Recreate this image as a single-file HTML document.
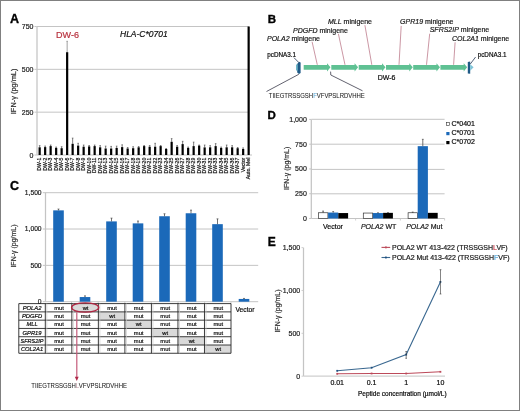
<!DOCTYPE html>
<html><head><meta charset="utf-8"><style>
html,body{margin:0;padding:0;background:#fff;}
body{width:520px;height:411px;overflow:hidden;position:relative;}
svg{position:absolute;left:0;top:0;display:block;filter:blur(0.35px);}
svg text{font-family:'Liberation Sans', sans-serif;}
</style></head><body>
<svg width="520" height="411" viewBox="0 0 520 411" font-family="'Liberation Sans', sans-serif">
<rect x="0" y="0" width="520" height="411" fill="#fff"/>
<text x="10.00" y="22.70" font-size="12.5" fill="#000" font-weight="bold" stroke="#000" stroke-width="0.35">A</text>
<line x1="36.50" y1="112.17" x2="249.00" y2="112.17" stroke="#c4c4c4" stroke-width="1" />
<line x1="36.50" y1="69.33" x2="249.00" y2="69.33" stroke="#c4c4c4" stroke-width="1" />
<line x1="36.50" y1="26.50" x2="249.00" y2="26.50" stroke="#c4c4c4" stroke-width="1" />
<line x1="36.50" y1="155.00" x2="252.00" y2="155.00" stroke="#c4c4c4" stroke-width="1" />
<line x1="37.00" y1="26.50" x2="37.00" y2="155.00" stroke="#c4c4c4" stroke-width="1.25" />
<line x1="34.50" y1="155.00" x2="36.50" y2="155.00" stroke="#c4c4c4" stroke-width="1" />
<text x="33.50" y="157.50" font-size="7" text-anchor="end" fill="#222" stroke="#222" stroke-width="0.2">0</text>
<line x1="34.50" y1="112.17" x2="36.50" y2="112.17" stroke="#c4c4c4" stroke-width="1" />
<text x="33.50" y="114.67" font-size="7" text-anchor="end" fill="#222" stroke="#222" stroke-width="0.2">250</text>
<line x1="34.50" y1="69.33" x2="36.50" y2="69.33" stroke="#c4c4c4" stroke-width="1" />
<text x="33.50" y="71.83" font-size="7" text-anchor="end" fill="#222" stroke="#222" stroke-width="0.2">500</text>
<line x1="34.50" y1="26.50" x2="36.50" y2="26.50" stroke="#c4c4c4" stroke-width="1" />
<text x="33.50" y="29.00" font-size="7" text-anchor="end" fill="#222" stroke="#222" stroke-width="0.2">750</text>
<text x="0.00" y="0.00" font-size="7.4" text-anchor="middle" fill="#333" transform="translate(16.3,91.4) rotate(-90)" stroke="#333" stroke-width="0.2">IFN-&#947; (pg/mL)</text>
<text x="67.50" y="37.70" font-size="9" text-anchor="middle" fill="#b8323f" stroke="#b8323f" stroke-width="0.2">DW-6</text>
<text x="120.00" y="36.60" font-size="8.5" fill="#111" font-style="italic" stroke="#111" stroke-width="0.2">HLA-C*0701</text>
<line x1="39.65" y1="145.60" x2="39.65" y2="147.30" stroke="#444" stroke-width="0.7" />
<line x1="38.85" y1="145.60" x2="40.45" y2="145.60" stroke="#444" stroke-width="0.6" />
<rect x="38.55" y="147.30" width="2.20" height="7.70" fill="#000" />
<text x="0.00" y="0.00" font-size="5.1" text-anchor="end" fill="#111" stroke="#111" stroke-width="0.2" transform="translate(41.30,157.7) rotate(-90)">DW-1</text>
<line x1="45.15" y1="146.00" x2="45.15" y2="147.10" stroke="#444" stroke-width="0.7" />
<line x1="44.35" y1="146.00" x2="45.95" y2="146.00" stroke="#444" stroke-width="0.6" />
<rect x="44.05" y="147.10" width="2.20" height="7.90" fill="#000" />
<text x="0.00" y="0.00" font-size="5.1" text-anchor="end" fill="#111" stroke="#111" stroke-width="0.2" transform="translate(46.80,157.7) rotate(-90)">DW-2</text>
<line x1="50.65" y1="145.00" x2="50.65" y2="146.10" stroke="#444" stroke-width="0.7" />
<line x1="49.85" y1="145.00" x2="51.45" y2="145.00" stroke="#444" stroke-width="0.6" />
<rect x="49.55" y="146.10" width="2.20" height="8.90" fill="#000" />
<text x="0.00" y="0.00" font-size="5.1" text-anchor="end" fill="#111" stroke="#111" stroke-width="0.2" transform="translate(52.30,157.7) rotate(-90)">DW-3</text>
<line x1="56.15" y1="147.00" x2="56.15" y2="147.90" stroke="#444" stroke-width="0.7" />
<line x1="55.35" y1="147.00" x2="56.95" y2="147.00" stroke="#444" stroke-width="0.6" />
<rect x="55.05" y="147.90" width="2.20" height="7.10" fill="#000" />
<text x="0.00" y="0.00" font-size="5.1" text-anchor="end" fill="#111" stroke="#111" stroke-width="0.2" transform="translate(57.80,157.7) rotate(-90)">DW-4</text>
<line x1="61.65" y1="146.70" x2="61.65" y2="148.20" stroke="#444" stroke-width="0.7" />
<line x1="60.85" y1="146.70" x2="62.45" y2="146.70" stroke="#444" stroke-width="0.6" />
<rect x="60.55" y="148.20" width="2.20" height="6.80" fill="#000" />
<text x="0.00" y="0.00" font-size="5.1" text-anchor="end" fill="#111" stroke="#111" stroke-width="0.2" transform="translate(63.30,157.7) rotate(-90)">DW-5</text>
<line x1="67.15" y1="41.30" x2="67.15" y2="52.20" stroke="#777" stroke-width="0.7" />
<line x1="66.35" y1="41.30" x2="67.95" y2="41.30" stroke="#777" stroke-width="0.6" />
<rect x="66.05" y="52.20" width="2.20" height="102.80" fill="#000" />
<text x="0.00" y="0.00" font-size="5.1" text-anchor="end" fill="#111" stroke="#111" stroke-width="0.2" transform="translate(68.80,157.7) rotate(-90)">DW-6</text>
<line x1="72.65" y1="138.10" x2="72.65" y2="143.80" stroke="#444" stroke-width="0.7" />
<line x1="71.85" y1="138.10" x2="73.45" y2="138.10" stroke="#444" stroke-width="0.6" />
<rect x="71.55" y="143.80" width="2.20" height="11.20" fill="#000" />
<text x="0.00" y="0.00" font-size="5.1" text-anchor="end" fill="#111" stroke="#111" stroke-width="0.2" transform="translate(74.30,157.7) rotate(-90)">DW-7</text>
<line x1="78.15" y1="143.30" x2="78.15" y2="145.60" stroke="#444" stroke-width="0.7" />
<line x1="77.35" y1="143.30" x2="78.95" y2="143.30" stroke="#444" stroke-width="0.6" />
<rect x="77.05" y="145.60" width="2.20" height="9.40" fill="#000" />
<text x="0.00" y="0.00" font-size="5.1" text-anchor="end" fill="#111" stroke="#111" stroke-width="0.2" transform="translate(79.80,157.7) rotate(-90)">DW-8</text>
<line x1="83.65" y1="145.00" x2="83.65" y2="146.70" stroke="#444" stroke-width="0.7" />
<line x1="82.85" y1="145.00" x2="84.45" y2="145.00" stroke="#444" stroke-width="0.6" />
<rect x="82.55" y="146.70" width="2.20" height="8.30" fill="#000" />
<text x="0.00" y="0.00" font-size="5.1" text-anchor="end" fill="#111" stroke="#111" stroke-width="0.2" transform="translate(85.30,157.7) rotate(-90)">DW-9</text>
<line x1="89.15" y1="145.50" x2="89.15" y2="146.40" stroke="#444" stroke-width="0.7" />
<line x1="88.35" y1="145.50" x2="89.95" y2="145.50" stroke="#444" stroke-width="0.6" />
<rect x="88.05" y="146.40" width="2.20" height="8.60" fill="#000" />
<text x="0.00" y="0.00" font-size="5.1" text-anchor="end" fill="#111" stroke="#111" stroke-width="0.2" transform="translate(90.80,157.7) rotate(-90)">DW-10</text>
<line x1="94.65" y1="145.00" x2="94.65" y2="146.10" stroke="#444" stroke-width="0.7" />
<line x1="93.85" y1="145.00" x2="95.45" y2="145.00" stroke="#444" stroke-width="0.6" />
<rect x="93.55" y="146.10" width="2.20" height="8.90" fill="#000" />
<text x="0.00" y="0.00" font-size="5.1" text-anchor="end" fill="#111" stroke="#111" stroke-width="0.2" transform="translate(96.30,157.7) rotate(-90)">DW-11</text>
<line x1="100.15" y1="145.60" x2="100.15" y2="147.30" stroke="#444" stroke-width="0.7" />
<line x1="99.35" y1="145.60" x2="100.95" y2="145.60" stroke="#444" stroke-width="0.6" />
<rect x="99.05" y="147.30" width="2.20" height="7.70" fill="#000" />
<text x="0.00" y="0.00" font-size="5.1" text-anchor="end" fill="#111" stroke="#111" stroke-width="0.2" transform="translate(101.80,157.7) rotate(-90)">DW-12</text>
<line x1="105.65" y1="146.10" x2="105.65" y2="148.50" stroke="#444" stroke-width="0.7" />
<line x1="104.85" y1="146.10" x2="106.45" y2="146.10" stroke="#444" stroke-width="0.6" />
<rect x="104.55" y="148.50" width="2.20" height="6.50" fill="#000" />
<text x="0.00" y="0.00" font-size="5.1" text-anchor="end" fill="#111" stroke="#111" stroke-width="0.2" transform="translate(107.30,157.7) rotate(-90)">DW-13</text>
<line x1="111.15" y1="146.40" x2="111.15" y2="148.50" stroke="#444" stroke-width="0.7" />
<line x1="110.35" y1="146.40" x2="111.95" y2="146.40" stroke="#444" stroke-width="0.6" />
<rect x="110.05" y="148.50" width="2.20" height="6.50" fill="#000" />
<text x="0.00" y="0.00" font-size="5.1" text-anchor="end" fill="#111" stroke="#111" stroke-width="0.2" transform="translate(112.80,157.7) rotate(-90)">DW-14</text>
<line x1="116.65" y1="146.10" x2="116.65" y2="147.90" stroke="#444" stroke-width="0.7" />
<line x1="115.85" y1="146.10" x2="117.45" y2="146.10" stroke="#444" stroke-width="0.6" />
<rect x="115.55" y="147.90" width="2.20" height="7.10" fill="#000" />
<text x="0.00" y="0.00" font-size="5.1" text-anchor="end" fill="#111" stroke="#111" stroke-width="0.2" transform="translate(118.30,157.7) rotate(-90)">DW-15</text>
<line x1="122.15" y1="144.80" x2="122.15" y2="147.10" stroke="#444" stroke-width="0.7" />
<line x1="121.35" y1="144.80" x2="122.95" y2="144.80" stroke="#444" stroke-width="0.6" />
<rect x="121.05" y="147.10" width="2.20" height="7.90" fill="#000" />
<text x="0.00" y="0.00" font-size="5.1" text-anchor="end" fill="#111" stroke="#111" stroke-width="0.2" transform="translate(123.80,157.7) rotate(-90)">DW-16</text>
<line x1="127.65" y1="147.50" x2="127.65" y2="148.50" stroke="#444" stroke-width="0.7" />
<line x1="126.85" y1="147.50" x2="128.45" y2="147.50" stroke="#444" stroke-width="0.6" />
<rect x="126.55" y="148.50" width="2.20" height="6.50" fill="#000" />
<text x="0.00" y="0.00" font-size="5.1" text-anchor="end" fill="#111" stroke="#111" stroke-width="0.2" transform="translate(129.30,157.7) rotate(-90)">DW-17</text>
<line x1="133.15" y1="146.70" x2="133.15" y2="148.20" stroke="#444" stroke-width="0.7" />
<line x1="132.35" y1="146.70" x2="133.95" y2="146.70" stroke="#444" stroke-width="0.6" />
<rect x="132.05" y="148.20" width="2.20" height="6.80" fill="#000" />
<text x="0.00" y="0.00" font-size="5.1" text-anchor="end" fill="#111" stroke="#111" stroke-width="0.2" transform="translate(134.80,157.7) rotate(-90)">DW-18</text>
<line x1="138.65" y1="146.50" x2="138.65" y2="147.30" stroke="#444" stroke-width="0.7" />
<line x1="137.85" y1="146.50" x2="139.45" y2="146.50" stroke="#444" stroke-width="0.6" />
<rect x="137.55" y="147.30" width="2.20" height="7.70" fill="#000" />
<text x="0.00" y="0.00" font-size="5.1" text-anchor="end" fill="#111" stroke="#111" stroke-width="0.2" transform="translate(140.30,157.7) rotate(-90)">DW-19</text>
<line x1="144.15" y1="145.50" x2="144.15" y2="146.10" stroke="#444" stroke-width="0.7" />
<line x1="143.35" y1="145.50" x2="144.95" y2="145.50" stroke="#444" stroke-width="0.6" />
<rect x="143.05" y="146.10" width="2.20" height="8.90" fill="#000" />
<text x="0.00" y="0.00" font-size="5.1" text-anchor="end" fill="#111" stroke="#111" stroke-width="0.2" transform="translate(145.80,157.7) rotate(-90)">DW-20</text>
<line x1="149.65" y1="145.50" x2="149.65" y2="146.70" stroke="#444" stroke-width="0.7" />
<line x1="148.85" y1="145.50" x2="150.45" y2="145.50" stroke="#444" stroke-width="0.6" />
<rect x="148.55" y="146.70" width="2.20" height="8.30" fill="#000" />
<text x="0.00" y="0.00" font-size="5.1" text-anchor="end" fill="#111" stroke="#111" stroke-width="0.2" transform="translate(151.30,157.7) rotate(-90)">DW-21</text>
<line x1="155.15" y1="143.30" x2="155.15" y2="146.70" stroke="#444" stroke-width="0.7" />
<line x1="154.35" y1="143.30" x2="155.95" y2="143.30" stroke="#444" stroke-width="0.6" />
<rect x="154.05" y="146.70" width="2.20" height="8.30" fill="#000" />
<text x="0.00" y="0.00" font-size="5.1" text-anchor="end" fill="#111" stroke="#111" stroke-width="0.2" transform="translate(156.80,157.7) rotate(-90)">DW-22</text>
<line x1="160.65" y1="145.50" x2="160.65" y2="146.10" stroke="#444" stroke-width="0.7" />
<line x1="159.85" y1="145.50" x2="161.45" y2="145.50" stroke="#444" stroke-width="0.6" />
<rect x="159.55" y="146.10" width="2.20" height="8.90" fill="#000" />
<text x="0.00" y="0.00" font-size="5.1" text-anchor="end" fill="#111" stroke="#111" stroke-width="0.2" transform="translate(162.30,157.7) rotate(-90)">DW-23</text>
<line x1="166.15" y1="148.50" x2="166.15" y2="149.00" stroke="#444" stroke-width="0.7" />
<line x1="165.35" y1="148.50" x2="166.95" y2="148.50" stroke="#444" stroke-width="0.6" />
<rect x="165.05" y="149.00" width="2.20" height="6.00" fill="#000" />
<text x="0.00" y="0.00" font-size="5.1" text-anchor="end" fill="#111" stroke="#111" stroke-width="0.2" transform="translate(167.80,157.7) rotate(-90)">DW-24</text>
<line x1="171.65" y1="138.60" x2="171.65" y2="141.80" stroke="#444" stroke-width="0.7" />
<line x1="170.85" y1="138.60" x2="172.45" y2="138.60" stroke="#444" stroke-width="0.6" />
<rect x="170.55" y="141.80" width="2.20" height="13.20" fill="#000" />
<text x="0.00" y="0.00" font-size="5.1" text-anchor="end" fill="#111" stroke="#111" stroke-width="0.2" transform="translate(173.30,157.7) rotate(-90)">DW-25</text>
<line x1="177.15" y1="145.50" x2="177.15" y2="146.70" stroke="#444" stroke-width="0.7" />
<line x1="176.35" y1="145.50" x2="177.95" y2="145.50" stroke="#444" stroke-width="0.6" />
<rect x="176.05" y="146.70" width="2.20" height="8.30" fill="#000" />
<text x="0.00" y="0.00" font-size="5.1" text-anchor="end" fill="#111" stroke="#111" stroke-width="0.2" transform="translate(178.80,157.7) rotate(-90)">DW-26</text>
<line x1="182.65" y1="141.30" x2="182.65" y2="144.10" stroke="#444" stroke-width="0.7" />
<line x1="181.85" y1="141.30" x2="183.45" y2="141.30" stroke="#444" stroke-width="0.6" />
<rect x="181.55" y="144.10" width="2.20" height="10.90" fill="#000" />
<text x="0.00" y="0.00" font-size="5.1" text-anchor="end" fill="#111" stroke="#111" stroke-width="0.2" transform="translate(184.30,157.7) rotate(-90)">DW-27</text>
<line x1="188.15" y1="147.00" x2="188.15" y2="147.90" stroke="#444" stroke-width="0.7" />
<line x1="187.35" y1="147.00" x2="188.95" y2="147.00" stroke="#444" stroke-width="0.6" />
<rect x="187.05" y="147.90" width="2.20" height="7.10" fill="#000" />
<text x="0.00" y="0.00" font-size="5.1" text-anchor="end" fill="#111" stroke="#111" stroke-width="0.2" transform="translate(189.80,157.7) rotate(-90)">DW-28</text>
<line x1="193.65" y1="142.10" x2="193.65" y2="146.10" stroke="#444" stroke-width="0.7" />
<line x1="192.85" y1="142.10" x2="194.45" y2="142.10" stroke="#444" stroke-width="0.6" />
<rect x="192.55" y="146.10" width="2.20" height="8.90" fill="#000" />
<text x="0.00" y="0.00" font-size="5.1" text-anchor="end" fill="#111" stroke="#111" stroke-width="0.2" transform="translate(195.30,157.7) rotate(-90)">DW-29</text>
<line x1="199.15" y1="145.00" x2="199.15" y2="145.60" stroke="#444" stroke-width="0.7" />
<line x1="198.35" y1="145.00" x2="199.95" y2="145.00" stroke="#444" stroke-width="0.6" />
<rect x="198.05" y="145.60" width="2.20" height="9.40" fill="#000" />
<text x="0.00" y="0.00" font-size="5.1" text-anchor="end" fill="#111" stroke="#111" stroke-width="0.2" transform="translate(200.80,157.7) rotate(-90)">DW-30</text>
<line x1="204.65" y1="145.00" x2="204.65" y2="147.40" stroke="#444" stroke-width="0.7" />
<line x1="203.85" y1="145.00" x2="205.45" y2="145.00" stroke="#444" stroke-width="0.6" />
<rect x="203.55" y="147.40" width="2.20" height="7.60" fill="#000" />
<text x="0.00" y="0.00" font-size="5.1" text-anchor="end" fill="#111" stroke="#111" stroke-width="0.2" transform="translate(206.30,157.7) rotate(-90)">DW-31</text>
<line x1="210.15" y1="145.60" x2="210.15" y2="147.30" stroke="#444" stroke-width="0.7" />
<line x1="209.35" y1="145.60" x2="210.95" y2="145.60" stroke="#444" stroke-width="0.6" />
<rect x="209.05" y="147.30" width="2.20" height="7.70" fill="#000" />
<text x="0.00" y="0.00" font-size="5.1" text-anchor="end" fill="#111" stroke="#111" stroke-width="0.2" transform="translate(211.80,157.7) rotate(-90)">DW-32</text>
<line x1="215.65" y1="143.60" x2="215.65" y2="146.10" stroke="#444" stroke-width="0.7" />
<line x1="214.85" y1="143.60" x2="216.45" y2="143.60" stroke="#444" stroke-width="0.6" />
<rect x="214.55" y="146.10" width="2.20" height="8.90" fill="#000" />
<text x="0.00" y="0.00" font-size="5.1" text-anchor="end" fill="#111" stroke="#111" stroke-width="0.2" transform="translate(217.30,157.7) rotate(-90)">DW-33</text>
<line x1="221.15" y1="147.00" x2="221.15" y2="147.90" stroke="#444" stroke-width="0.7" />
<line x1="220.35" y1="147.00" x2="221.95" y2="147.00" stroke="#444" stroke-width="0.6" />
<rect x="220.05" y="147.90" width="2.20" height="7.10" fill="#000" />
<text x="0.00" y="0.00" font-size="5.1" text-anchor="end" fill="#111" stroke="#111" stroke-width="0.2" transform="translate(222.80,157.7) rotate(-90)">DW-34</text>
<line x1="226.65" y1="145.00" x2="226.65" y2="147.30" stroke="#444" stroke-width="0.7" />
<line x1="225.85" y1="145.00" x2="227.45" y2="145.00" stroke="#444" stroke-width="0.6" />
<rect x="225.55" y="147.30" width="2.20" height="7.70" fill="#000" />
<text x="0.00" y="0.00" font-size="5.1" text-anchor="end" fill="#111" stroke="#111" stroke-width="0.2" transform="translate(228.30,157.7) rotate(-90)">DW-35</text>
<line x1="232.15" y1="145.60" x2="232.15" y2="147.30" stroke="#444" stroke-width="0.7" />
<line x1="231.35" y1="145.60" x2="232.95" y2="145.60" stroke="#444" stroke-width="0.6" />
<rect x="231.05" y="147.30" width="2.20" height="7.70" fill="#000" />
<text x="0.00" y="0.00" font-size="5.1" text-anchor="end" fill="#111" stroke="#111" stroke-width="0.2" transform="translate(233.80,157.7) rotate(-90)">DW-36</text>
<line x1="237.65" y1="147.50" x2="237.65" y2="148.20" stroke="#444" stroke-width="0.7" />
<line x1="236.85" y1="147.50" x2="238.45" y2="147.50" stroke="#444" stroke-width="0.6" />
<rect x="236.55" y="148.20" width="2.20" height="6.80" fill="#000" />
<text x="0.00" y="0.00" font-size="5.1" text-anchor="end" fill="#111" stroke="#111" stroke-width="0.2" transform="translate(239.30,157.7) rotate(-90)">DW-37</text>
<line x1="243.15" y1="147.90" x2="243.15" y2="149.00" stroke="#444" stroke-width="0.7" />
<line x1="242.35" y1="147.90" x2="243.95" y2="147.90" stroke="#444" stroke-width="0.6" />
<rect x="242.05" y="149.00" width="2.20" height="6.00" fill="#000" />
<text x="0.00" y="0.00" font-size="5.1" text-anchor="end" fill="#111" stroke="#111" stroke-width="0.2" transform="translate(244.80,157.7) rotate(-90)">Vector</text>
<rect x="247.55" y="26.50" width="2.20" height="128.50" fill="#000" />
<text x="0.00" y="0.00" font-size="5.1" text-anchor="end" fill="#111" stroke="#111" stroke-width="0.2" transform="translate(250.30,157.7) rotate(-90)">Auto. Mel</text>
<text x="267.70" y="22.70" font-size="11.5" fill="#000" font-weight="bold" stroke="#000" stroke-width="0.35">B</text>
<text x="267.00" y="40.70" font-size="7" fill="#1a1a1a" stroke="#1a1a1a" stroke-width="0.2"><tspan font-style="italic" stroke="#1a1a1a">POLA2</tspan> minigene</text>
<text x="293.00" y="32.50" font-size="7" fill="#1a1a1a" stroke="#1a1a1a" stroke-width="0.2"><tspan font-style="italic" stroke="#1a1a1a">PDGFD</tspan> minigene</text>
<text x="328.00" y="24.20" font-size="7" fill="#1a1a1a" stroke="#1a1a1a" stroke-width="0.2"><tspan font-style="italic" stroke="#1a1a1a">MLL</tspan> minigene</text>
<text x="400.10" y="23.90" font-size="7" fill="#1a1a1a" stroke="#1a1a1a" stroke-width="0.2"><tspan font-style="italic" stroke="#1a1a1a">GPR19</tspan> minigene</text>
<text x="429.70" y="32.40" font-size="7" fill="#1a1a1a" stroke="#1a1a1a" stroke-width="0.2"><tspan font-style="italic" stroke="#1a1a1a">SFRS2IP</tspan> minigene</text>
<text x="452.00" y="40.70" font-size="7" fill="#1a1a1a" stroke="#1a1a1a" stroke-width="0.2"><tspan font-style="italic" stroke="#1a1a1a">COL2A1</tspan> minigene</text>
<line x1="312.10" y1="41.80" x2="317.30" y2="64.80" stroke="#b46a7c" stroke-width="0.7" />
<line x1="338.40" y1="33.80" x2="345.00" y2="64.80" stroke="#b46a7c" stroke-width="0.7" />
<line x1="364.90" y1="25.20" x2="371.80" y2="64.80" stroke="#b46a7c" stroke-width="0.7" />
<line x1="401.20" y1="25.90" x2="399.00" y2="64.80" stroke="#b46a7c" stroke-width="0.7" />
<line x1="429.70" y1="33.70" x2="426.50" y2="64.80" stroke="#b46a7c" stroke-width="0.7" />
<line x1="455.10" y1="42.30" x2="453.60" y2="64.80" stroke="#b46a7c" stroke-width="0.7" />
<path d="M303.70 64.9 H327.00 V63.2 L330.50 67.3 L327.00 71.5 V69.7 H303.70 Z" fill="#5fc193"/>
<path d="M331.30 64.9 H354.60 V63.2 L358.10 67.3 L354.60 71.5 V69.7 H331.30 Z" fill="#5fc193"/>
<path d="M358.70 64.9 H382.00 V63.2 L385.50 67.3 L382.00 71.5 V69.7 H358.70 Z" fill="#5fc193"/>
<path d="M386.00 64.9 H409.30 V63.2 L412.80 67.3 L409.30 71.5 V69.7 H386.00 Z" fill="#5fc193"/>
<path d="M413.20 64.9 H436.50 V63.2 L440.00 67.3 L436.50 71.5 V69.7 H413.20 Z" fill="#5fc193"/>
<path d="M440.40 64.9 H463.70 V63.2 L467.20 67.3 L463.70 71.5 V69.7 H440.40 Z" fill="#5fc193"/>
<path d="M297.2 64 L299 61.8 L300.6 62.5 L300.6 73 L299 74 L297.2 72.5 Z" fill="#1f5a86"/>
<rect x="296.0" y="64.5" width="1.6" height="6" fill="#6bb6c9"/>
<path d="M467.8 62 L470.2 61.5 L470.2 73.8 L467.8 73.5 Z" fill="#1f5a86"/>
<path d="M470.2 64.2 L473.6 67.3 L470.2 70.8 Z" fill="#7fc4d8"/>
<text x="267.30" y="57.00" font-size="6.3" stroke="#1a1a1a" stroke-width="0.2">pcDNA3.1</text>
<text x="477.70" y="57.30" font-size="6.3" stroke="#1a1a1a" stroke-width="0.2">pcDNA3.1</text>
<line x1="294.00" y1="57.70" x2="298.80" y2="62.50" stroke="#2a3a55" stroke-width="0.8" />
<line x1="475.60" y1="57.00" x2="470.30" y2="64.00" stroke="#2a3a55" stroke-width="0.8" />
<line x1="298.80" y1="74.30" x2="266.50" y2="91.50" stroke="#3a3a4a" stroke-width="0.8" />
<polyline points="330.6,71.6 330.8,75.0 362.5,90.8" fill="none" stroke="#3a3a4a" stroke-width="0.8"/>
<text x="377.70" y="79.80" font-size="7" stroke="#1a1a1a" stroke-width="0.2">DW-6</text>
<text x="268.8" y="97.6" font-size="7.2" fill="#1a1a1a" stroke-width="0.05" textLength="96" lengthAdjust="spacingAndGlyphs" stroke="#1a1a1a">TIIEGTRSSGSH<tspan fill="#58a8d8" stroke="#58a8d8">F</tspan>VFVPSLRDVHHE</text>
<text x="267.40" y="118.90" font-size="11.5" fill="#000" font-weight="bold" stroke="#000" stroke-width="0.35">D</text>
<line x1="311.50" y1="193.80" x2="444.60" y2="193.80" stroke="#c4c4c4" stroke-width="1" />
<line x1="311.50" y1="169.40" x2="444.60" y2="169.40" stroke="#c4c4c4" stroke-width="1" />
<line x1="311.50" y1="144.20" x2="444.60" y2="144.20" stroke="#c4c4c4" stroke-width="1" />
<line x1="311.50" y1="119.30" x2="444.60" y2="119.30" stroke="#c4c4c4" stroke-width="1" />
<line x1="311.50" y1="218.50" x2="444.60" y2="218.50" stroke="#c4c4c4" stroke-width="1" />
<line x1="311.30" y1="119.40" x2="311.30" y2="218.50" stroke="#c4c4c4" stroke-width="1.25" />
<line x1="309.20" y1="218.50" x2="311.50" y2="218.50" stroke="#c4c4c4" stroke-width="1" />
<text x="306.80" y="221.00" font-size="7" text-anchor="end" fill="#222" stroke="#222" stroke-width="0.2">0</text>
<line x1="309.20" y1="193.72" x2="311.50" y2="193.72" stroke="#c4c4c4" stroke-width="1" />
<text x="306.80" y="196.22" font-size="7" text-anchor="end" fill="#222" stroke="#222" stroke-width="0.2">250</text>
<line x1="309.20" y1="168.95" x2="311.50" y2="168.95" stroke="#c4c4c4" stroke-width="1" />
<text x="306.80" y="171.45" font-size="7" text-anchor="end" fill="#222" stroke="#222" stroke-width="0.2">500</text>
<line x1="309.20" y1="144.18" x2="311.50" y2="144.18" stroke="#c4c4c4" stroke-width="1" />
<text x="306.80" y="146.68" font-size="7" text-anchor="end" fill="#222" stroke="#222" stroke-width="0.2">750</text>
<line x1="309.20" y1="119.40" x2="311.50" y2="119.40" stroke="#c4c4c4" stroke-width="1" />
<text x="306.80" y="121.90" font-size="7" text-anchor="end" fill="#222" stroke="#222" stroke-width="0.2">1,000</text>
<line x1="355.60" y1="218.50" x2="355.60" y2="220.50" stroke="#c4c4c4" stroke-width="0.8" />
<line x1="400.40" y1="218.50" x2="400.40" y2="220.50" stroke="#c4c4c4" stroke-width="0.8" />
<line x1="444.60" y1="218.50" x2="444.60" y2="220.50" stroke="#c4c4c4" stroke-width="0.8" />
<text x="0.00" y="0.00" font-size="7" text-anchor="middle" fill="#333" transform="translate(289.4,168.3) rotate(-90)" stroke="#333" stroke-width="0.2">IFN-&#947; (pg/mL)</text>
<rect x="318.50" y="212.75" width="9.4" height="5.75" fill="#fff" stroke="#333" stroke-width="0.7"/>
<rect x="328.10" y="212.55" width="10.20" height="5.95" fill="#1b69b9" />
<rect x="338.30" y="213.05" width="9.80" height="5.45" fill="#000" />
<line x1="323.10" y1="211.07" x2="323.10" y2="212.75" stroke="#333" stroke-width="0.7" />
<line x1="322.20" y1="211.07" x2="324.00" y2="211.07" stroke="#333" stroke-width="0.6" />
<line x1="333.20" y1="211.56" x2="333.20" y2="212.55" stroke="#333" stroke-width="0.7" />
<line x1="332.30" y1="211.56" x2="334.10" y2="211.56" stroke="#333" stroke-width="0.6" />
<rect x="363.30" y="213.05" width="9.4" height="5.45" fill="#fff" stroke="#333" stroke-width="0.7"/>
<rect x="372.90" y="213.05" width="10.20" height="5.45" fill="#1b69b9" />
<rect x="383.10" y="212.85" width="9.80" height="5.65" fill="#000" />
<line x1="378.00" y1="212.75" x2="378.00" y2="213.05" stroke="#333" stroke-width="0.7" />
<line x1="377.10" y1="212.75" x2="378.90" y2="212.75" stroke="#333" stroke-width="0.6" />
<line x1="388.00" y1="212.55" x2="388.00" y2="212.85" stroke="#333" stroke-width="0.7" />
<line x1="387.10" y1="212.55" x2="388.90" y2="212.55" stroke="#333" stroke-width="0.6" />
<rect x="408.10" y="212.75" width="9.4" height="5.75" fill="#fff" stroke="#333" stroke-width="0.7"/>
<rect x="417.70" y="146.16" width="10.20" height="72.34" fill="#1b69b9" />
<rect x="427.90" y="212.85" width="9.80" height="5.65" fill="#000" />
<line x1="412.70" y1="212.06" x2="412.70" y2="212.75" stroke="#333" stroke-width="0.7" />
<line x1="411.80" y1="212.06" x2="413.60" y2="212.06" stroke="#333" stroke-width="0.6" />
<line x1="422.80" y1="139.32" x2="422.80" y2="146.16" stroke="#333" stroke-width="0.7" />
<line x1="421.90" y1="139.32" x2="423.70" y2="139.32" stroke="#333" stroke-width="0.6" />
<text x="333.00" y="228.50" font-size="7" text-anchor="middle" stroke="#1a1a1a" stroke-width="0.2">Vector</text>
<text x="378.6" y="228.7" font-size="7" text-anchor="middle" fill="#1a1a1a" stroke="#1a1a1a" stroke-width="0.2"><tspan font-style="italic" stroke="#1a1a1a">POLA2</tspan> WT</text>
<text x="424.3" y="228.7" font-size="7" text-anchor="middle" fill="#1a1a1a" stroke="#1a1a1a" stroke-width="0.2"><tspan font-style="italic" stroke="#1a1a1a">POLA2</tspan> Mut</text>
<rect x="446.6" y="122.5" width="3" height="3" fill="#fff" stroke="#333" stroke-width="0.6"/>
<rect x="446.30" y="132.00" width="3.20" height="3.20" fill="#1b69b9" />
<rect x="446.30" y="141.00" width="3.20" height="3.20" fill="#000" />
<text x="451.50" y="125.80" font-size="7" stroke="#1a1a1a" stroke-width="0.2">C*0401</text>
<text x="451.50" y="135.40" font-size="7" stroke="#1a1a1a" stroke-width="0.2">C*0701</text>
<text x="451.50" y="144.40" font-size="7" stroke="#1a1a1a" stroke-width="0.2">C*0702</text>
<text x="10.00" y="190.20" font-size="12.5" fill="#000" font-weight="bold" stroke="#000" stroke-width="0.35">C</text>
<line x1="45.00" y1="265.37" x2="258.20" y2="265.37" stroke="#c4c4c4" stroke-width="1" />
<line x1="45.00" y1="229.03" x2="258.20" y2="229.03" stroke="#c4c4c4" stroke-width="1" />
<line x1="45.00" y1="192.70" x2="258.20" y2="192.70" stroke="#c4c4c4" stroke-width="1" />
<line x1="45.00" y1="301.70" x2="258.20" y2="301.70" stroke="#c4c4c4" stroke-width="1" />
<line x1="45.50" y1="192.70" x2="45.50" y2="301.70" stroke="#c4c4c4" stroke-width="1.25" />
<line x1="42.80" y1="301.70" x2="45.00" y2="301.70" stroke="#c4c4c4" stroke-width="1" />
<text x="41.60" y="304.10" font-size="6.7" text-anchor="end" fill="#222" stroke="#222" stroke-width="0.2">0</text>
<line x1="42.80" y1="265.37" x2="45.00" y2="265.37" stroke="#c4c4c4" stroke-width="1" />
<text x="41.60" y="267.77" font-size="6.7" text-anchor="end" fill="#222" stroke="#222" stroke-width="0.2">500</text>
<line x1="42.80" y1="229.03" x2="45.00" y2="229.03" stroke="#c4c4c4" stroke-width="1" />
<text x="41.60" y="231.43" font-size="6.7" text-anchor="end" fill="#222" stroke="#222" stroke-width="0.2">1,000</text>
<line x1="42.80" y1="192.70" x2="45.00" y2="192.70" stroke="#c4c4c4" stroke-width="1" />
<text x="41.60" y="195.10" font-size="6.7" text-anchor="end" fill="#222" stroke="#222" stroke-width="0.2">1,500</text>
<text x="0.00" y="0.00" font-size="7" text-anchor="middle" fill="#333" transform="translate(15.9,246) rotate(-90)" stroke="#333" stroke-width="0.2">IFN-&#947; (pg/mL)</text>
<rect x="53.20" y="210.36" width="10.60" height="91.34" fill="#1b69b9" />
<line x1="58.50" y1="209.05" x2="58.50" y2="210.36" stroke="#333" stroke-width="0.7" />
<line x1="57.50" y1="209.05" x2="59.50" y2="209.05" stroke="#333" stroke-width="0.6" />
<rect x="79.70" y="297.05" width="10.60" height="4.65" fill="#1b69b9" />
<line x1="85.00" y1="295.89" x2="85.00" y2="297.05" stroke="#333" stroke-width="0.7" />
<line x1="84.00" y1="295.89" x2="86.00" y2="295.89" stroke="#333" stroke-width="0.6" />
<rect x="106.20" y="221.40" width="10.60" height="80.30" fill="#1b69b9" />
<line x1="111.50" y1="218.13" x2="111.50" y2="221.40" stroke="#333" stroke-width="0.7" />
<line x1="110.50" y1="218.13" x2="112.50" y2="218.13" stroke="#333" stroke-width="0.6" />
<rect x="132.70" y="223.37" width="10.60" height="78.33" fill="#1b69b9" />
<line x1="138.00" y1="221.04" x2="138.00" y2="223.37" stroke="#333" stroke-width="0.7" />
<line x1="137.00" y1="221.04" x2="139.00" y2="221.04" stroke="#333" stroke-width="0.6" />
<rect x="159.20" y="216.24" width="10.60" height="85.46" fill="#1b69b9" />
<line x1="164.50" y1="213.77" x2="164.50" y2="216.24" stroke="#333" stroke-width="0.7" />
<line x1="163.50" y1="213.77" x2="165.50" y2="213.77" stroke="#333" stroke-width="0.6" />
<rect x="185.70" y="213.26" width="10.60" height="88.44" fill="#1b69b9" />
<line x1="191.00" y1="210.14" x2="191.00" y2="213.26" stroke="#333" stroke-width="0.7" />
<line x1="190.00" y1="210.14" x2="192.00" y2="210.14" stroke="#333" stroke-width="0.6" />
<rect x="212.20" y="224.16" width="10.60" height="77.54" fill="#1b69b9" />
<line x1="217.50" y1="218.86" x2="217.50" y2="224.16" stroke="#333" stroke-width="0.7" />
<line x1="216.50" y1="218.86" x2="218.50" y2="218.86" stroke="#333" stroke-width="0.6" />
<rect x="238.70" y="298.94" width="10.60" height="2.76" fill="#1b69b9" />
<line x1="244.00" y1="298.43" x2="244.00" y2="298.94" stroke="#333" stroke-width="0.7" />
<line x1="243.00" y1="298.43" x2="245.00" y2="298.43" stroke="#333" stroke-width="0.6" />
<line x1="71.50" y1="301.70" x2="71.50" y2="303.50" stroke="#c4c4c4" stroke-width="0.8" />
<line x1="98.20" y1="301.70" x2="98.20" y2="303.50" stroke="#c4c4c4" stroke-width="0.8" />
<line x1="124.80" y1="301.70" x2="124.80" y2="303.50" stroke="#c4c4c4" stroke-width="0.8" />
<line x1="151.30" y1="301.70" x2="151.30" y2="303.50" stroke="#c4c4c4" stroke-width="0.8" />
<line x1="178.00" y1="301.70" x2="178.00" y2="303.50" stroke="#c4c4c4" stroke-width="0.8" />
<line x1="204.60" y1="301.70" x2="204.60" y2="303.50" stroke="#c4c4c4" stroke-width="0.8" />
<line x1="231.00" y1="301.70" x2="231.00" y2="303.50" stroke="#c4c4c4" stroke-width="0.8" />
<text x="245.00" y="311.70" font-size="6.7" text-anchor="middle" stroke="#1a1a1a" stroke-width="0.2">Vector</text>
<rect x="98.36" y="311.88" width="26.53" height="8.28" fill="#d9d9d9" />
<rect x="124.89" y="320.16" width="26.53" height="8.28" fill="#d9d9d9" />
<rect x="151.42" y="328.44" width="26.53" height="8.28" fill="#d9d9d9" />
<rect x="177.95" y="336.72" width="26.53" height="8.28" fill="#d9d9d9" />
<rect x="204.48" y="345.00" width="26.53" height="8.28" fill="#d9d9d9" />
<ellipse cx="85.15" cy="307.5" rx="13.6" ry="4.65" fill="#dadada"/>
<line x1="18.80" y1="303.60" x2="231.01" y2="303.60" stroke="#262626" stroke-width="0.9" />
<line x1="18.80" y1="311.88" x2="231.01" y2="311.88" stroke="#262626" stroke-width="0.9" />
<line x1="18.80" y1="320.16" x2="231.01" y2="320.16" stroke="#262626" stroke-width="0.9" />
<line x1="18.80" y1="328.44" x2="231.01" y2="328.44" stroke="#262626" stroke-width="0.9" />
<line x1="18.80" y1="336.72" x2="231.01" y2="336.72" stroke="#262626" stroke-width="0.9" />
<line x1="18.80" y1="345.00" x2="231.01" y2="345.00" stroke="#262626" stroke-width="0.9" />
<line x1="18.80" y1="353.28" x2="231.01" y2="353.28" stroke="#262626" stroke-width="0.9" />
<line x1="18.80" y1="303.60" x2="18.80" y2="353.28" stroke="#262626" stroke-width="0.9" />
<line x1="45.30" y1="303.60" x2="45.30" y2="353.28" stroke="#262626" stroke-width="0.9" />
<line x1="46.80" y1="303.60" x2="46.80" y2="353.28" stroke="#c8c8c8" stroke-width="0.7" />
<line x1="71.83" y1="303.60" x2="71.83" y2="353.28" stroke="#262626" stroke-width="0.9" />
<line x1="73.33" y1="303.60" x2="73.33" y2="353.28" stroke="#c8c8c8" stroke-width="0.7" />
<line x1="98.36" y1="303.60" x2="98.36" y2="353.28" stroke="#262626" stroke-width="0.9" />
<line x1="99.86" y1="303.60" x2="99.86" y2="353.28" stroke="#c8c8c8" stroke-width="0.7" />
<line x1="124.89" y1="303.60" x2="124.89" y2="353.28" stroke="#262626" stroke-width="0.9" />
<line x1="126.39" y1="303.60" x2="126.39" y2="353.28" stroke="#c8c8c8" stroke-width="0.7" />
<line x1="151.42" y1="303.60" x2="151.42" y2="353.28" stroke="#262626" stroke-width="0.9" />
<line x1="152.92" y1="303.60" x2="152.92" y2="353.28" stroke="#c8c8c8" stroke-width="0.7" />
<line x1="177.95" y1="303.60" x2="177.95" y2="353.28" stroke="#262626" stroke-width="0.9" />
<line x1="179.45" y1="303.60" x2="179.45" y2="353.28" stroke="#c8c8c8" stroke-width="0.7" />
<line x1="204.48" y1="303.60" x2="204.48" y2="353.28" stroke="#262626" stroke-width="0.9" />
<line x1="205.98" y1="303.60" x2="205.98" y2="353.28" stroke="#c8c8c8" stroke-width="0.7" />
<line x1="231.01" y1="303.60" x2="231.01" y2="353.28" stroke="#262626" stroke-width="0.9" />
<text x="32.05" y="309.90" font-size="5.8" text-anchor="middle" font-style="italic" stroke="#1a1a1a" stroke-width="0.2">POLA2</text>
<text x="59.06" y="309.90" font-size="5.8" text-anchor="middle" stroke="#1a1a1a" stroke-width="0.2">mut</text>
<text x="85.59" y="309.90" font-size="5.8" text-anchor="middle" stroke="#1a1a1a" stroke-width="0.2">wt</text>
<text x="112.12" y="309.90" font-size="5.8" text-anchor="middle" stroke="#1a1a1a" stroke-width="0.2">mut</text>
<text x="138.66" y="309.90" font-size="5.8" text-anchor="middle" stroke="#1a1a1a" stroke-width="0.2">mut</text>
<text x="165.19" y="309.90" font-size="5.8" text-anchor="middle" stroke="#1a1a1a" stroke-width="0.2">mut</text>
<text x="191.71" y="309.90" font-size="5.8" text-anchor="middle" stroke="#1a1a1a" stroke-width="0.2">mut</text>
<text x="218.25" y="309.90" font-size="5.8" text-anchor="middle" stroke="#1a1a1a" stroke-width="0.2">mut</text>
<text x="32.05" y="318.18" font-size="5.8" text-anchor="middle" font-style="italic" stroke="#1a1a1a" stroke-width="0.2">PDGFD</text>
<text x="59.06" y="318.18" font-size="5.8" text-anchor="middle" stroke="#1a1a1a" stroke-width="0.2">mut</text>
<text x="85.59" y="318.18" font-size="5.8" text-anchor="middle" stroke="#1a1a1a" stroke-width="0.2">mut</text>
<text x="112.12" y="318.18" font-size="5.8" text-anchor="middle" stroke="#1a1a1a" stroke-width="0.2">wt</text>
<text x="138.66" y="318.18" font-size="5.8" text-anchor="middle" stroke="#1a1a1a" stroke-width="0.2">mut</text>
<text x="165.19" y="318.18" font-size="5.8" text-anchor="middle" stroke="#1a1a1a" stroke-width="0.2">mut</text>
<text x="191.71" y="318.18" font-size="5.8" text-anchor="middle" stroke="#1a1a1a" stroke-width="0.2">mut</text>
<text x="218.25" y="318.18" font-size="5.8" text-anchor="middle" stroke="#1a1a1a" stroke-width="0.2">mut</text>
<text x="32.05" y="326.46" font-size="5.8" text-anchor="middle" font-style="italic" stroke="#1a1a1a" stroke-width="0.2">MLL</text>
<text x="59.06" y="326.46" font-size="5.8" text-anchor="middle" stroke="#1a1a1a" stroke-width="0.2">mut</text>
<text x="85.59" y="326.46" font-size="5.8" text-anchor="middle" stroke="#1a1a1a" stroke-width="0.2">mut</text>
<text x="112.12" y="326.46" font-size="5.8" text-anchor="middle" stroke="#1a1a1a" stroke-width="0.2">mut</text>
<text x="138.66" y="326.46" font-size="5.8" text-anchor="middle" stroke="#1a1a1a" stroke-width="0.2">wt</text>
<text x="165.19" y="326.46" font-size="5.8" text-anchor="middle" stroke="#1a1a1a" stroke-width="0.2">mut</text>
<text x="191.71" y="326.46" font-size="5.8" text-anchor="middle" stroke="#1a1a1a" stroke-width="0.2">mut</text>
<text x="218.25" y="326.46" font-size="5.8" text-anchor="middle" stroke="#1a1a1a" stroke-width="0.2">mut</text>
<text x="32.05" y="334.74" font-size="5.8" text-anchor="middle" font-style="italic" stroke="#1a1a1a" stroke-width="0.2">GPR19</text>
<text x="59.06" y="334.74" font-size="5.8" text-anchor="middle" stroke="#1a1a1a" stroke-width="0.2">mut</text>
<text x="85.59" y="334.74" font-size="5.8" text-anchor="middle" stroke="#1a1a1a" stroke-width="0.2">mut</text>
<text x="112.12" y="334.74" font-size="5.8" text-anchor="middle" stroke="#1a1a1a" stroke-width="0.2">mut</text>
<text x="138.66" y="334.74" font-size="5.8" text-anchor="middle" stroke="#1a1a1a" stroke-width="0.2">mut</text>
<text x="165.19" y="334.74" font-size="5.8" text-anchor="middle" stroke="#1a1a1a" stroke-width="0.2">wt</text>
<text x="191.71" y="334.74" font-size="5.8" text-anchor="middle" stroke="#1a1a1a" stroke-width="0.2">mut</text>
<text x="218.25" y="334.74" font-size="5.8" text-anchor="middle" stroke="#1a1a1a" stroke-width="0.2">mut</text>
<text x="32.05" y="343.02" font-size="5.8" text-anchor="middle" font-style="italic" textLength="23" lengthAdjust="spacingAndGlyphs" stroke="#1a1a1a" stroke-width="0.2">SFRS2IP</text>
<text x="59.06" y="343.02" font-size="5.8" text-anchor="middle" stroke="#1a1a1a" stroke-width="0.2">mut</text>
<text x="85.59" y="343.02" font-size="5.8" text-anchor="middle" stroke="#1a1a1a" stroke-width="0.2">mut</text>
<text x="112.12" y="343.02" font-size="5.8" text-anchor="middle" stroke="#1a1a1a" stroke-width="0.2">mut</text>
<text x="138.66" y="343.02" font-size="5.8" text-anchor="middle" stroke="#1a1a1a" stroke-width="0.2">mut</text>
<text x="165.19" y="343.02" font-size="5.8" text-anchor="middle" stroke="#1a1a1a" stroke-width="0.2">mut</text>
<text x="191.71" y="343.02" font-size="5.8" text-anchor="middle" stroke="#1a1a1a" stroke-width="0.2">wt</text>
<text x="218.25" y="343.02" font-size="5.8" text-anchor="middle" stroke="#1a1a1a" stroke-width="0.2">mut</text>
<text x="32.05" y="351.30" font-size="5.8" text-anchor="middle" font-style="italic" stroke="#1a1a1a" stroke-width="0.2">COL2A1</text>
<text x="59.06" y="351.30" font-size="5.8" text-anchor="middle" stroke="#1a1a1a" stroke-width="0.2">mut</text>
<text x="85.59" y="351.30" font-size="5.8" text-anchor="middle" stroke="#1a1a1a" stroke-width="0.2">mut</text>
<text x="112.12" y="351.30" font-size="5.8" text-anchor="middle" stroke="#1a1a1a" stroke-width="0.2">mut</text>
<text x="138.66" y="351.30" font-size="5.8" text-anchor="middle" stroke="#1a1a1a" stroke-width="0.2">mut</text>
<text x="165.19" y="351.30" font-size="5.8" text-anchor="middle" stroke="#1a1a1a" stroke-width="0.2">mut</text>
<text x="191.71" y="351.30" font-size="5.8" text-anchor="middle" stroke="#1a1a1a" stroke-width="0.2">mut</text>
<text x="218.25" y="351.30" font-size="5.8" text-anchor="middle" stroke="#1a1a1a" stroke-width="0.2">wt</text>
<ellipse cx="85.15" cy="307.5" rx="13.6" ry="4.65" fill="none" stroke="#b02440" stroke-width="1.3"/>
<line x1="76.80" y1="312.30" x2="76.80" y2="377.50" stroke="#c55a7a" stroke-width="1.2" />
<path d="M74.8 376.7 L78.7 376.7 L76.8 381.0 Z" fill="#b02848"/>
<text x="31.3" y="388.2" font-size="7.2" fill="#1a1a1a" stroke-width="0.05" textLength="95.7" lengthAdjust="spacingAndGlyphs" stroke="#1a1a1a">TIIEGTRSSGSH<tspan fill="#b8909a" stroke="#b8909a">L</tspan>VFVPSLRDVHHE</text>
<text x="267.80" y="246.00" font-size="12" fill="#000" font-weight="bold" stroke="#000" stroke-width="0.35">E</text>
<line x1="303.50" y1="247.60" x2="303.50" y2="376.20" stroke="#c4c4c4" stroke-width="1.25" />
<line x1="303.50" y1="376.20" x2="445.00" y2="376.20" stroke="#cfcfcf" stroke-width="1.2" />
<line x1="301.50" y1="376.20" x2="303.30" y2="376.20" stroke="#c4c4c4" stroke-width="0.8" />
<text x="300.20" y="378.70" font-size="7" text-anchor="end" fill="#222" stroke="#222" stroke-width="0.2">0</text>
<line x1="301.50" y1="333.33" x2="303.30" y2="333.33" stroke="#c4c4c4" stroke-width="0.8" />
<text x="300.20" y="335.83" font-size="7" text-anchor="end" fill="#222" stroke="#222" stroke-width="0.2">500</text>
<line x1="301.50" y1="290.47" x2="303.30" y2="290.47" stroke="#c4c4c4" stroke-width="0.8" />
<text x="300.20" y="292.97" font-size="7" text-anchor="end" fill="#222" stroke="#222" stroke-width="0.2">1,000</text>
<line x1="301.50" y1="247.60" x2="303.30" y2="247.60" stroke="#c4c4c4" stroke-width="0.8" />
<text x="300.20" y="250.10" font-size="7" text-anchor="end" fill="#222" stroke="#222" stroke-width="0.2">1,500</text>
<text x="0.00" y="0.00" font-size="7" text-anchor="middle" fill="#333" transform="translate(279.9,311) rotate(-90)" stroke="#333" stroke-width="0.2">IFN-&#947; (pg/mL)</text>
<text x="337.20" y="385.30" font-size="7" text-anchor="middle" stroke="#1a1a1a" stroke-width="0.2">0.01</text>
<text x="371.60" y="385.30" font-size="7" text-anchor="middle" stroke="#1a1a1a" stroke-width="0.2">0.1</text>
<text x="406.20" y="385.30" font-size="7" text-anchor="middle" stroke="#1a1a1a" stroke-width="0.2">1</text>
<text x="440.40" y="385.30" font-size="7" text-anchor="middle" stroke="#1a1a1a" stroke-width="0.2">10</text>
<text x="402.30" y="395.80" font-size="6.5" text-anchor="middle" stroke="#1a1a1a" stroke-width="0.2">Peptide concentration (&#181;mol/L)</text>
<polyline points="337.2,373.8 371.6,373.5 406.2,373.5 440.4,371.8" fill="none" stroke="#bc4a5a" stroke-width="1.1"/>
<polyline points="337.2,370.8 371.6,367.7 406.2,354.6 440.4,281.9" fill="none" stroke="#3a6890" stroke-width="1.1"/>
<rect x="336.30" y="372.90" width="1.80" height="1.80" fill="#bc4a5a" />
<rect x="370.70" y="372.60" width="1.80" height="1.80" fill="#bc4a5a" />
<rect x="405.30" y="372.60" width="1.80" height="1.80" fill="#bc4a5a" />
<rect x="439.50" y="370.90" width="1.80" height="1.80" fill="#bc4a5a" />
<rect x="336.30" y="369.90" width="1.80" height="1.80" fill="#1f4f7f" />
<rect x="370.70" y="366.80" width="1.80" height="1.80" fill="#1f4f7f" />
<rect x="405.30" y="353.70" width="1.80" height="1.80" fill="#1f4f7f" />
<rect x="439.50" y="281.00" width="1.80" height="1.80" fill="#1f4f7f" />
<line x1="406.20" y1="351.50" x2="406.20" y2="358.30" stroke="#333" stroke-width="0.6" />
<line x1="405.40" y1="351.50" x2="407.00" y2="351.50" stroke="#333" stroke-width="0.6" />
<line x1="405.40" y1="358.30" x2="407.00" y2="358.30" stroke="#333" stroke-width="0.6" />
<line x1="440.50" y1="269.70" x2="440.50" y2="294.00" stroke="#333" stroke-width="0.6" />
<line x1="439.60" y1="269.70" x2="441.40" y2="269.70" stroke="#333" stroke-width="0.6" />
<line x1="439.60" y1="294.00" x2="441.40" y2="294.00" stroke="#333" stroke-width="0.6" />
<line x1="381.50" y1="247.40" x2="390.20" y2="247.40" stroke="#bc4a5a" stroke-width="1.1" />
<rect x="385.00" y="246.50" width="1.80" height="1.80" fill="#bc4a5a" />
<line x1="381.50" y1="257.50" x2="390.20" y2="257.50" stroke="#3a6890" stroke-width="1.1" />
<rect x="385.00" y="256.60" width="1.80" height="1.80" fill="#1f4f7f" />
<text x="392.0" y="249.8" font-size="7" fill="#1a1a1a" stroke="#1a1a1a" stroke-width="0.2">POLA2 WT 413-422 (TRSSGSH<tspan fill="#c8404c" stroke="#c8404c">L</tspan>VF)</text>
<text x="392.0" y="259.9" font-size="7" fill="#1a1a1a" stroke="#1a1a1a" stroke-width="0.2">POLA2 Mut 413-422 (TRSSGSH<tspan fill="#58a8d8" stroke="#58a8d8">F</tspan>VF)</text>
<rect x="0.5" y="0.5" width="519" height="410" fill="none" stroke="#808080" stroke-width="1"/>
</svg>
</body></html>
